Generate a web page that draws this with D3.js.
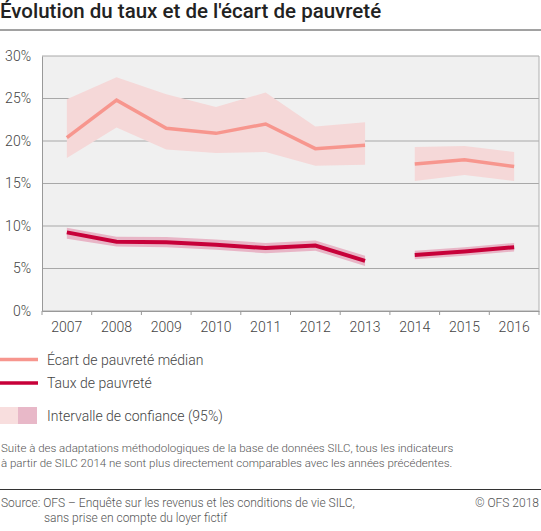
<!DOCTYPE html>
<html><head><meta charset="utf-8">
<script src="https://cdn.jsdelivr.net/npm/d3@7"></script>
<style>body{margin:0;background:#fff;font-family:Roboto,"Noto Sans",sans-serif;}</style>
</head><body><svg id="c" width="541" height="531"></svg>
<script>
const years = ["2007","2008","2009","2010","2011","2012","2013","2014","2015","2016"];
const ecart   = [20.4,24.8,21.5,20.9,22.0,19.1,19.5,17.3,17.8,17.0];
const ecartLo = [18.0,21.6,19.0,18.6,18.7,17.1,17.2,15.3,16.0,15.3];
const ecartHi = [24.9,27.5,25.5,24.0,25.7,21.7,22.2,19.3,19.4,18.7];
const taux    = [9.25,8.15,8.1,7.8,7.4,7.7,5.9,6.6,7.0,7.5];
const tauxLo  = [8.5,7.6,7.5,7.2,6.8,7.1,5.3,6.1,6.5,7.0];
const tauxHi  = [9.8,8.75,8.7,8.4,8.0,8.3,6.5,7.1,7.5,8.0];
const segments = [[0,6],[7,9]];
const yTicks = [0,5,10,15,20,25,30];

const svg = d3.select("#c");
const L=42, R=539, T=56, B=311;
const x = d3.scaleBand().domain(years).range([L,R]);
const y = d3.scaleLinear().domain([0,30]).range([B,T]);
const cx = i => x(years[i]) + x.bandwidth()/2;

svg.append("text").attr("x",0).attr("y",18).attr("font-size",20.5).attr("font-weight",500)
  .attr("fill","#222").text("Évolution du taux et de l'écart de pauvreté");
svg.append("line").attr("x1",0).attr("x2",541).attr("y1",30).attr("y2",30).attr("stroke","#444").attr("stroke-width",1);

svg.append("rect").attr("x",L).attr("y",T).attr("width",R-L).attr("height",B-T).attr("fill","#f0f0f0");

const g = svg.append("g");
yTicks.forEach(t=>{
  g.append("line").attr("x1",L).attr("x2",R).attr("y1",y(t)).attr("y2",y(t)).attr("stroke","#a8a8a8").attr("stroke-width",1);
});
g.append("line").attr("x1",R).attr("x2",R).attr("y1",T).attr("y2",B).attr("stroke","#b0b0b0");

// y axis
const ya = svg.append("g").attr("transform",`translate(${L},0)`)
  .call(d3.axisLeft(y).tickValues(yTicks).tickFormat(d=>d+"%").tickSize(0).tickPadding(14));
ya.select(".domain").attr("stroke","#999");
ya.selectAll("text").attr("font-size",14).attr("fill","#444").attr("font-family","Roboto").attr("font-weight",300).attr("text-anchor","end").attr("dx","3");

// x axis
const xa = svg.append("g").attr("transform",`translate(0,${B})`)
  .call(d3.axisBottom(x).tickSize(0).tickPadding(11));
xa.select(".domain").attr("stroke","#999");
xa.selectAll("text").attr("font-size",14).attr("fill","#444").attr("font-family","Roboto").attr("font-weight",300);
const edges = years.map(d=>x(d)).concat([R]);
edges.forEach(e=>xa.append("line").attr("x1",e).attr("x2",e).attr("y1",0).attr("y2",4).attr("stroke","#999"));

const area = (lo,hi)=>d3.area().x(i=>cx(i)).y0(i=>y(lo[i])).y1(i=>y(hi[i]));
const line = v=>d3.line().x(i=>cx(i)).y(i=>y(v[i]));

segments.forEach(([a,b])=>{
  const idx = d3.range(a,b+1);
  svg.append("path").attr("d",area(ecartLo,ecartHi)(idx)).attr("fill","#f5d8d8");
  svg.append("path").attr("d",area(tauxLo,tauxHi)(idx)).attr("fill","#e8b5c6");
});
segments.forEach(([a,b])=>{
  const idx = d3.range(a,b+1);
  svg.append("path").attr("d",line(ecart)(idx)).attr("fill","none").attr("stroke","#f7968e").attr("stroke-width",3.5);
  svg.append("path").attr("d",line(taux)(idx)).attr("fill","none").attr("stroke","#c70039").attr("stroke-width",4);
});

// legend
const lg = svg.append("g").attr("font-size",14).attr("fill","#444").attr("font-weight",300);
lg.append("line").attr("x1",0).attr("x2",38).attr("y1",359.5).attr("y2",359.5).attr("stroke","#f7968e").attr("stroke-width",3.5);
lg.append("text").attr("x",47).attr("y",365).text("Écart de pauvreté médian");
lg.append("line").attr("x1",0).attr("x2",38).attr("y1",383).attr("y2",383).attr("stroke","#c70039").attr("stroke-width",3.5);
lg.append("text").attr("x",47).attr("y",388).text("Taux de pauvreté");
lg.append("rect").attr("x",0).attr("y",407).attr("width",18).attr("height",17).attr("fill","#f8dede");
lg.append("rect").attr("x",18).attr("y",407).attr("width",19).attr("height",17).attr("fill","#e8b8c8");
lg.append("text").attr("x",47).attr("y",421).text("Intervalle de confiance (95%)");

const nt = svg.append("g").attr("font-size",11.5).attr("fill","#555").attr("font-weight",300);
nt.append("text").attr("x",1).attr("y",452).text("Suite à des adaptations méthodologiques de la base de données SILC, tous les indicateurs");
nt.append("text").attr("x",1).attr("y",467).text("à partir de SILC 2014 ne sont plus directement comparables avec les années précédentes.");

svg.append("line").attr("x1",0).attr("x2",541).attr("y1",489.5).attr("y2",489.5).attr("stroke","#333").attr("stroke-width",1);
const src = svg.append("g").attr("font-size",12).attr("fill","#555").attr("font-weight",300);
src.append("text").attr("x",1).attr("y",507).text("Source: OFS – Enquête sur les revenus et les conditions de vie SILC,");
src.append("text").attr("x",44).attr("y",522).text("sans prise en compte du loyer fictif");
src.append("text").attr("x",539).attr("y",507).attr("text-anchor","end").text("© OFS 2018");
</script></body></html>
